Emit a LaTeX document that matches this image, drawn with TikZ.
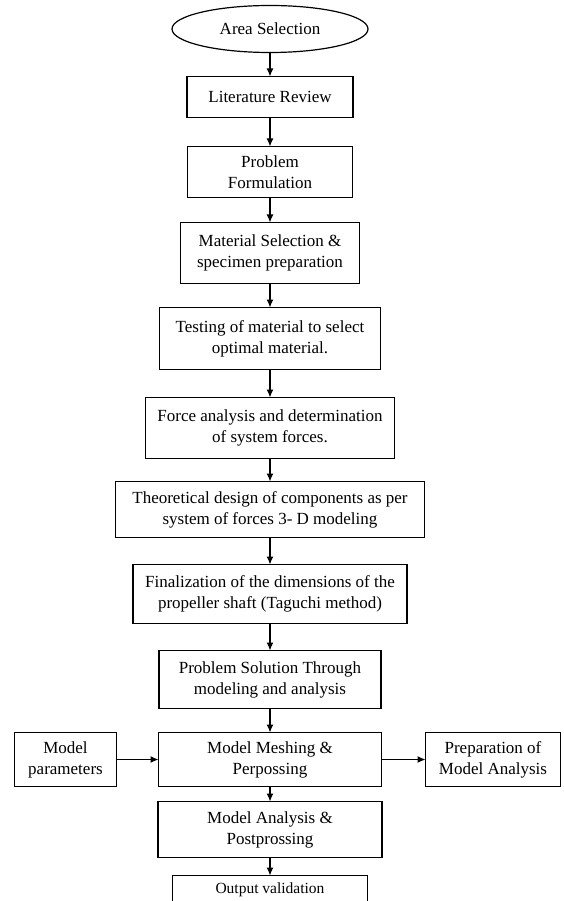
\documentclass[tikz,border=0pt]{standalone}
\usepackage{fontspec}
\setmainfont{Liberation Serif}
\usepackage{tikz}
\usetikzlibrary{arrows.meta,positioning,shapes.geometric}
\tikzset{
    stepbox/.style={draw,line width=1.2pt,outer sep=0pt,align=center,inner sep=2pt,
        font=\fontsize{17}{21}\selectfont},
    startnode/.style={ellipse,draw,line width=1.2pt,outer sep=0pt,inner sep=0pt,
        font=\fontsize{17}{21}\selectfont},
    arr/.style={-{Latex[length=8pt,width=7pt]},line width=1.2pt}
}

\begin{document}
\begin{tikzpicture}[x=1pt,y=1pt,node distance=24pt and 42pt]
    \useasboundingbox (0,0) rectangle (564,-901);
    \node[startnode,minimum width=196pt,minimum height=47pt] (area) at (270,-29) {Area Selection};
    \node[stepbox,minimum width=166pt,minimum height=41pt,below=24pt of area] (lit) {Literature Review};
    \node[stepbox,minimum width=165pt,minimum height=51pt,below=29pt of lit] (prob) {Problem\\Formulation};
    \node[stepbox,minimum width=179pt,minimum height=61pt,below=25pt of prob] (mat) {Material Selection \&\\specimen preparation};
    \node[stepbox,minimum width=221pt,minimum height=62pt,below=24pt of mat] (test) {Testing of material to select\\optimal material.};
    \node[stepbox,minimum width=249pt,minimum height=61pt,below=28pt of test] (force) {Force analysis and determination\\of system forces.};
    \node[stepbox,minimum width=309pt,minimum height=56pt,below=23pt of force] (theo) {Theoretical design of components as per\\system of forces 3- D modeling};
    \node[stepbox,minimum width=274pt,minimum height=59pt,below=27pt of theo] (final) {Finalization of the dimensions of the\\propeller shaft (Taguchi method)};
    \node[stepbox,minimum width=222pt,minimum height=58pt,below=27pt of final] (sol) {Problem Solution Through\\modeling and analysis};
    \node[stepbox,minimum width=223pt,minimum height=54pt,below=24pt of sol] (mesh) {Model Meshing \&\\Perpossing};
    \node[stepbox,minimum width=224pt,minimum height=56pt,below=15pt of mesh] (anal) {Model Analysis \&\\Postprossing};
    \node[stepbox,minimum width=195pt,minimum height=28pt,below=18pt of anal,
        font=\fontsize{15.5}{21}\selectfont] (out) {Output validation};
    \node[stepbox,minimum width=102pt,minimum height=54pt,left=42pt of mesh] (param) {Model\\parameters};
    \node[stepbox,minimum width=135pt,minimum height=54pt,right=44pt of mesh] (prep) {Preparation of\\Model Analysis};

    \draw[arr] (area) -- (lit);
    \draw[arr] (lit) -- (prob);
    \draw[arr] (prob) -- (mat);
    \draw[arr] (mat) -- (test);
    \draw[arr] (test) -- (force);
    \draw[arr] (force) -- (theo);
    \draw[arr] (theo) -- (final);
    \draw[arr] (final) -- (sol);
    \draw[arr] (sol) -- (mesh);
    \draw[arr] (mesh) -- (anal);
    \draw[arr] (anal) -- (out);
    \draw[arr] (param) -- (mesh);
    \draw[arr] (mesh) -- (prep);
\end{tikzpicture}
\end{document}
